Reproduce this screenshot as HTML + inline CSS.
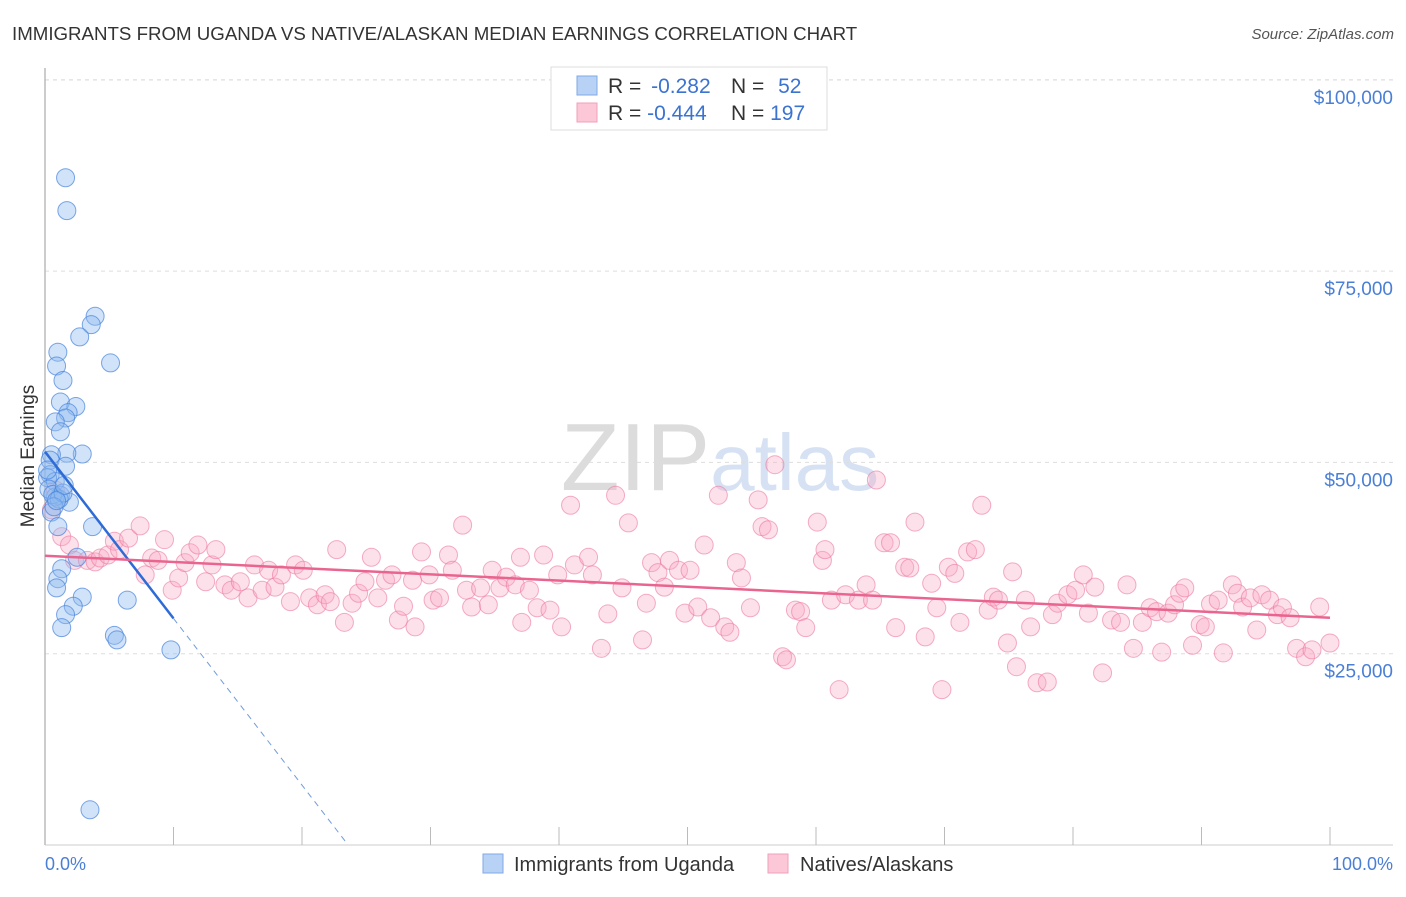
<!DOCTYPE html>
<html><head><meta charset="utf-8">
<style>
body{margin:0;background:#fff;font-family:"Liberation Sans",sans-serif;}
svg text{font-family:"Liberation Sans",sans-serif;}
</style></head>
<body>
<svg id="chart" width="1406" height="892" viewBox="0 0 1406 892" xmlns="http://www.w3.org/2000/svg">
<text x="12" y="40" font-size="18.7" fill="#333">IMMIGRANTS FROM UGANDA VS NATIVE/ALASKAN MEDIAN EARNINGS CORRELATION CHART</text>
<text x="1394" y="39" font-size="15" fill="#555" text-anchor="end" font-style="italic">Source: ZipAtlas.com</text>
<text x="720" y="490" font-size="96" fill="#e4e4e4" text-anchor="middle" font-family="Liberation Serif"><tspan fill="#dcdcdc">ZIP</tspan><tspan fill="#d6e2f3" font-family="Liberation Sans" font-size="80">atlas</tspan></text>
<g id="grid"></g>
<g id="ticks"></g>
<line x1="45" y1="68" x2="45" y2="845" stroke="#bbb" stroke-width="1.5"/>
<line x1="45" y1="845" x2="1393" y2="845" stroke="#ccc" stroke-width="1"/>
<g id="xticks"></g>
<text transform="translate(34,456) rotate(-90)" font-size="19" fill="#333" text-anchor="middle">Median Earnings</text>
<g id="pinkPts"></g>
<g id="bluePts"></g>
<g id="lines"></g>
<text x="45" y="870" font-size="18" fill="#4a7fd6">0.0%</text>
<text x="1393" y="870" font-size="18" fill="#4a7fd6" text-anchor="end">100.0%</text>
<g>
<rect x="551" y="67" width="276" height="63" fill="#fff" stroke="#ddd"/>
<rect x="577" y="76" width="20" height="19" fill="#b8d2f5" stroke="#7fa9e6"/>
<rect x="577" y="103" width="20" height="19" fill="#fcc8d8" stroke="#f0a0bb"/>
<text x="608" y="93" font-size="21" fill="#333">R = <tspan fill="#3b73d1" dx="4">-0.282</tspan></text>
<text x="731" y="93" font-size="21" fill="#333">N = <tspan fill="#3b73d1" dx="8">52</tspan></text>
<text x="608" y="120" font-size="21" fill="#333">R = <tspan fill="#3b73d1">-0.444</tspan></text>
<text x="731" y="120" font-size="21" fill="#333">N = <tspan fill="#3b73d1">197</tspan></text>
</g>
<g>
<rect x="483" y="854" width="20" height="19" fill="#b8d2f5" stroke="#7fa9e6"/>
<text x="514" y="871" font-size="20" fill="#333">Immigrants from Uganda</text>
<rect x="768" y="854" width="20" height="19" fill="#fcc8d8" stroke="#f0a0bb"/>
<text x="800" y="871" font-size="20" fill="#333">Natives/Alaskans</text>
</g>
</svg>
<script>
const yTicks=[25000,50000,75000,100000];
const yTickLabels=["$25,000","$50,000","$75,000","$100,000"];
const xTickPcts=[0,10,20,30,40,50,60,70,80,90,100];
const blueX=[1.6,1.7,3.9,3.6,2.7,5.1,1.0,0.9,1.4,1.2,2.4,1.8,1.6,0.8,1.2,2.9,1.7,0.5,0.4,1.6,0.4,0.2,0.8,1.2,1.9,0.8,0.5,1.0,3.7,2.5,1.3,1.0,0.9,2.9,6.4,2.2,1.6,1.3,5.4,5.6,9.8,3.5,0.3,0.6,1.1,1.4,0.7,0.2,1.5,0.9];
const blueY=[87.2,82.9,69.1,68,66.4,63,64.4,62.6,60.7,57.9,57.3,56.5,55.8,55.3,54,51.1,51.2,51,50.3,49.5,48.4,48,47.5,45.7,44.8,45.5,43.5,41.6,41.6,37.6,36.1,34.8,33.6,32.4,32,31.2,30.1,28.4,27.4,26.8,25.5,4.6,46.5,45.8,45.2,46,44.2,49,47,45];
const pinkX=[0.5,0.8,1.3,1.9,2.3,3.3,3.9,4.3,4.9,5.4,5.8,6.5,7.4,7.8,8.3,8.8,9.3,9.9,10.4,10.9,11.3,11.9,12.5,13,13.3,14,14.5,15.2,15.8,16.3,16.9,17.4,17.9,18.4,19.1,19.5,20.1,20.6,21.2,21.8,22.2,22.7,23.3,23.9,24.4,24.9,25.4,25.9,26.5,27,27.5,27.9,28.6,28.8,29.3,29.9,30.2,30.7,31.4,31.7,32.5,32.8,33.2,33.9,34.5,34.8,35.4,35.9,36.6,37,37.1,37.7,38.3,38.8,39.3,39.9,40.2,40.9,41.2,42.3,42.6,43.3,43.8,44.4,44.9,45.4,46.5,46.8,47.2,47.7,48.2,48.6,49.3,49.8,50.2,50.8,51.3,51.8,52.4,52.9,53.3,53.8,54.2,54.9,55.5,55.8,56.3,56.8,57.4,57.7,58.4,58.8,59.2,60.1,60.5,60.7,61.2,61.8,62.3,63.3,63.9,64.4,64.7,65.3,65.8,66.2,66.9,67.3,67.7,68.5,69,69.4,69.8,70.3,70.8,71.2,71.8,72.4,72.9,73.4,73.8,74.2,74.9,75.3,75.6,76.3,76.7,77.2,78,78.4,78.8,79.6,80.2,80.8,81.2,81.7,82.3,83,83.7,84.2,84.7,85.4,86,86.5,86.9,87.4,87.9,88.3,88.7,89.3,89.9,90.3,90.7,91.3,91.7,92.4,92.8,93.2,93.8,94.3,94.7,95.3,95.9,96.3,96.9,97.4,98.1,98.6,99.2,100];
const pinkY=[43.8,46.4,40.3,39.2,37.2,37.2,37,37.5,37.9,39.7,38.6,40.1,41.7,35.3,37.5,37.2,39.9,33.3,34.9,36.9,38.2,39.2,34.4,36.6,38.6,34,33.3,34.4,32.3,36.6,33.3,35.9,33.7,35.3,31.8,36.6,35.9,32.3,31.4,32.7,31.8,38.6,29.1,31.6,32.9,34.4,37.6,32.3,34.6,35.3,29.4,31.2,34.6,28.5,38.3,35.3,32,32.3,37.9,35.9,41.8,33.3,31.1,33.6,31.4,35.9,33.6,35,34,37.6,29.1,33.3,31,37.9,30.7,35.3,28.5,44.4,36.6,37.6,35.3,25.7,30.2,45.7,33.6,42.1,26.8,31.6,36.9,35.6,33.7,37.2,35.9,30.3,35.9,31.1,39.2,29.7,45.7,28.5,27.8,36.9,34.9,31,45.1,41.6,41.2,49.7,24.6,24.2,30.7,30.5,28.4,42.2,37.2,38.6,32,20.3,32.7,32,34,32,47.7,39.5,39.5,28.4,36.3,36.2,42.2,27.2,34.2,31,20.3,36.3,35.5,29.1,38.3,38.6,44.4,30.7,32.4,32,26.4,35.7,23.3,32,28.5,21.2,21.3,30.1,31.6,32.7,33.3,35.3,30.3,33.7,22.5,29.4,29.1,34,25.7,29.1,31,30.5,25.2,30.3,31.4,32.9,33.6,26.1,28.8,28.5,31.5,32,25.1,34,32.9,31.1,32.3,28.1,32.7,32,30.1,31,29.7,25.7,24.6,25.5,31.1,26.4];
const blueTrend=[51.4,0.2];   // value at 0% and at 23.5%
const blueTrendEnd=[10,23.5]; // solid-end pct, dashed-end pct
const pinkTrend=[37.8,29.7];  // value at 0% and 100%

const X0=45,X1=1330,Y0=845,PX25=191.3;
const sx=p=>X0+(X1-X0)*p/100;
const sy=v=>Y0-v*PX25/25000;
const NS="http://www.w3.org/2000/svg";
function mk(tag,parent,attrs){const e=document.createElementNS(NS,tag);for(const k in attrs)e.setAttribute(k,attrs[k]);parent.appendChild(e);return e;}
const grid=document.getElementById('grid'),ticks=document.getElementById('ticks');
yTicks.forEach((v,i)=>{
  const l=mk('line',grid,{x1:45,x2:1393,y1:sy(v),y2:sy(v),stroke:'#ddd','stroke-dasharray':'4,4'});
  
  
  const t=mk('text',ticks,{x:1393,y:sy(v)+24,'font-size':19,fill:'#4a7fd6','text-anchor':'end'});
  t.textContent=yTickLabels[i];
  
  
});
const tl=mk('line',grid,{x1:45,x2:1393,y1:80,y2:80,stroke:'#ddd','stroke-dasharray':'4,4'});


const xt=document.getElementById('xticks');
xTickPcts.forEach(p=>{
  const l=mk('line',xt,{x1:sx(p),x2:sx(p),y1:827,y2:845,stroke:'#bbb'});
  
  
});
const pg=document.getElementById('pinkPts');
pinkX.forEach((p,i)=>{
  const c=mk('circle',pg,{cx:sx(p),cy:sy(pinkY[i]*1000),r:9,fill:'rgba(248,170,196,0.35)',stroke:'rgba(236,120,160,0.6)','stroke-width':1});
  
  
});
const bg=document.getElementById('bluePts');
blueX.forEach((p,i)=>{
  const c=mk('circle',bg,{cx:sx(p),cy:sy(blueY[i]*1000),r:9,fill:'rgba(140,185,240,0.4)',stroke:'rgba(70,130,220,0.7)','stroke-width':1});
  
  
});
const lg=document.getElementById('lines');
const bv=p=>blueTrend[0]+(blueTrend[1]-blueTrend[0])*p/23.5;
const b1=mk('line',lg,{x1:sx(0),y1:sy(bv(0)*1000),x2:sx(blueTrendEnd[0]),y2:sy(bv(blueTrendEnd[0])*1000),stroke:'#2f6bd6','stroke-width':2.5});


const b2=mk('line',lg,{x1:sx(blueTrendEnd[0]),y1:sy(bv(blueTrendEnd[0])*1000),x2:sx(blueTrendEnd[1]),y2:sy(bv(blueTrendEnd[1])*1000),stroke:'#6f9be0','stroke-width':1,'stroke-dasharray':'6,5'});


const p1=mk('line',lg,{x1:sx(0),y1:sy(pinkTrend[0]*1000),x2:sx(100),y2:sy(pinkTrend[1]*1000),stroke:'#e9658f','stroke-width':2.5});


</script>
</body></html>
